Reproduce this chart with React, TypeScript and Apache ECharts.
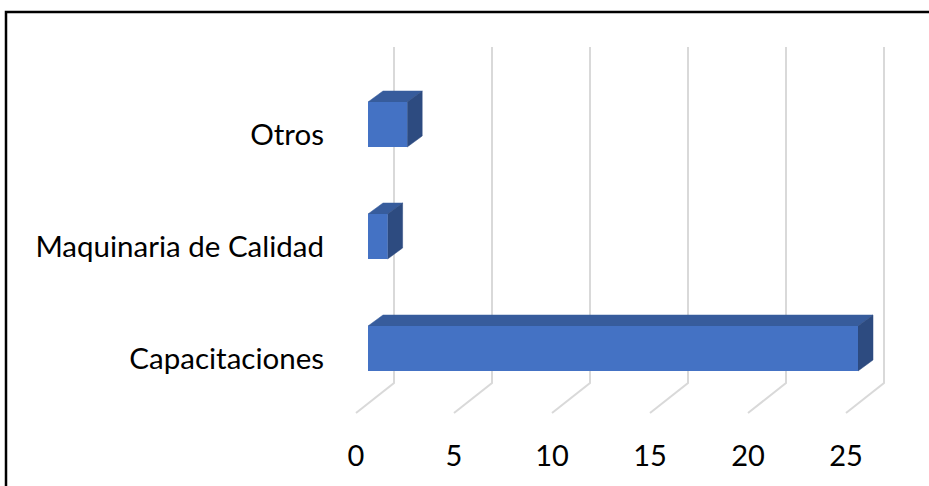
import React, { useEffect, useRef } from "react";
import * as echarts from "echarts";

const categories = ["Capacitaciones", "Maquinaria de Calidad", "Otros"];
const values = [25, 1, 2];
const xTicks = [0, 5, 10, 15, 20, 25];

const FONT = "Lato, 'Open Sans', sans-serif";

export default function App() {
  const ref = useRef<HTMLDivElement>(null);
  useEffect(() => {
    if (!ref.current) return;
    const chart = echarts.init(ref.current, null, { renderer: "svg" });
    const floorDx = 38;
    const floorDy = -30;
    const frontOff = [12, -8.5];
    const backOff = [27, -19.5];
    const barH = 45;

    chart.setOption({
      animation: false,
      backgroundColor: "#ffffff",
      grid: { left: 356, top: 77, width: 490, height: 336, containLabel: false },
      xAxis: {
        type: "value",
        min: 0,
        max: 25,
        interval: 5,
        axisLine: { show: false },
        axisTick: { show: false },
        splitLine: { show: false },
        axisLabel: {
          color: "#000",
          fontFamily: FONT,
          fontSize: 29,
          margin: 27,
          formatter: (v: number) => (xTicks.includes(v) ? String(v) : ""),
        },
      },
      yAxis: {
        type: "category",
        data: categories,
        axisLine: { show: false },
        axisTick: { show: false },
        splitLine: { show: false },
        axisLabel: {
          color: "#000",
          fontFamily: FONT,
          fontSize: 29.5,
          margin: 32,
          padding: [3, 0, 0, 0],
        },
      },
      graphic: [
        {
          type: "polyline",
          shape: { points: [[6, 486], [6, 12], [929, 12]] },
          style: { stroke: "#000", lineWidth: 2.5, fill: "none" },
          z: 100,
        },
      ],
      series: [
        {
          type: "custom",
          z: 1,
          silent: true,
          data: xTicks.map((v) => [v, 0]),
          renderItem: (params: any, api: any) => {
            const p = api.coord([api.value(0), 0]);
            const cs = params.coordSys;
            const x = p[0];
            const top = cs.y;
            const bottom = cs.y + cs.height;
            return {
              type: "polyline",
              shape: {
                points: [
                  [x + floorDx, top + floorDy],
                  [x + floorDx, bottom + floorDy],
                  [x, bottom],
                ],
              },
              style: { stroke: "#D9D9D9", lineWidth: 2, fill: "none" },
            };
          },
        },
        {
          type: "custom",
          z: 2,
          data: values.map((v, i) => [v, i]),
          renderItem: (params: any, api: any) => {
            const v = api.value(0);
            const idx = api.value(1);
            const p0 = api.coord([0, idx]);
            const p1 = api.coord([v, idx]);
            const xl = p0[0] + frontOff[0];
            const xr = p1[0] + frontOff[0];
            const yt = p0[1] + frontOff[1] - barH / 2;
            const yb = yt + barH;
            const dx = backOff[0] - frontOff[0];
            const dy = backOff[1] - frontOff[1];
            return {
              type: "group",
              children: [
                {
                  type: "polygon",
                  shape: { points: [[xl, yt], [xr, yt], [xr + dx, yt + dy], [xl + dx, yt + dy]] },
                  style: { fill: "#375C9C", stroke: "#375C9C", lineWidth: 0.5 },
                },
                {
                  type: "polygon",
                  shape: { points: [[xr, yt], [xr + dx, yt + dy], [xr + dx, yb + dy], [xr, yb]] },
                  style: { fill: "#2D4B80", stroke: "#2D4B80", lineWidth: 0.5 },
                },
                {
                  type: "rect",
                  shape: { x: xl, y: yt, width: xr - xl, height: barH },
                  style: { fill: "#4472C4" },
                },
              ],
            };
          },
        },
      ],
    });
    return () => chart.dispose();
  }, []);
  return (
    <div
      ref={ref}
      style={{ position: "fixed", left: 0, top: 0, width: 929, height: 486 }}
    />
  );
}
